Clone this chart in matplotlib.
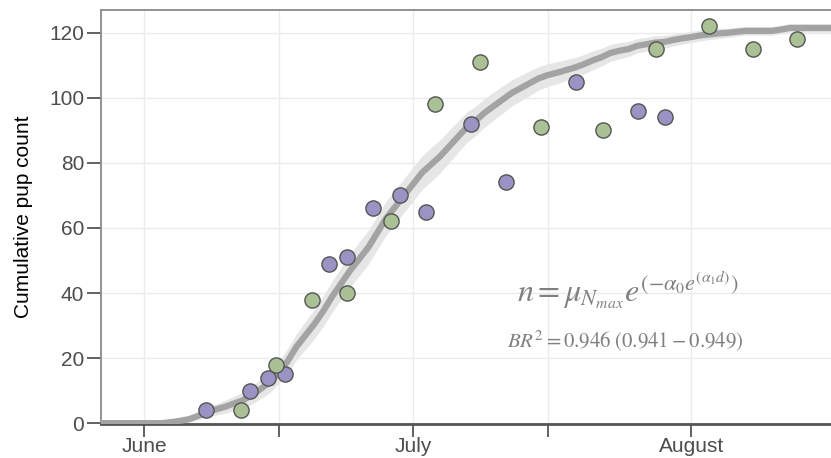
import numpy as np
import matplotlib.pyplot as plt

# dias contados desde el 1 de junio
tick_days = [0, 15, 30, 45, 61]
tick_labels = ['June', '', 'July', '', 'August']

# observaciones (dos grupos)
dias_morado = [6.9, 11.8, 13.8, 15.7, 20.6, 22.6, 25.5, 28.5, 31.4, 36.5, 40.4, 48.2, 55.1, 58.1]
pups_morado = [4, 10, 14, 15, 49, 51, 66, 70, 65, 92, 74, 105, 96, 94]
dias_verde = [10.8, 14.7, 18.7, 22.6, 27.5, 32.5, 37.5, 44.3, 51.2, 57.1, 63.0, 67.9, 72.8]
pups_verde = [4, 18, 38, 40, 62, 98, 111, 91, 90, 115, 122, 115, 118]

# curva ajustada
dias_curva = list(range(-5, 78))
curva = [0, 0, 0, 0, 0, 0, 0, 0, 0.3, 0.7, 1.2, 2.2, 3.4, 4.2, 5, 6, 7, 8.5, 10.5, 12.5,
         15.5, 19, 23.5, 27, 30.5, 34.5, 39, 43, 47, 50.5, 54, 58.5, 63, 66.5, 70, 73.5,
         77, 79.5, 82, 85, 88, 91, 93, 95.5, 97.5, 99.5, 101.5, 103, 104.5, 106, 107,
         107.7, 108.5, 109.3, 110.3, 111.5, 112.5, 113.8, 114.5, 115, 116, 116.5, 117,
         117.2, 117.8, 118.3, 118.7, 119.2, 119.5, 119.8, 120, 120.3, 120.6, 120.6, 120.6,
         120.6, 121, 121.5, 121.5, 121.5, 121.5, 121.5, 121.5]
ancho_banda = [0, 0, 0, 0, 0, 0, 0, 0, 0.4, 0.7, 0.9, 1.2, 1.4, 1.7, 2.0, 2.2, 2.5, 2.7, 3.0, 3.2,
               3.5, 3.8, 4.0, 4.3, 4.5, 4.7, 4.8, 4.9, 5.0, 5.2, 5.2, 5.2, 5.2, 5.2, 5.2, 5.2,
               5.2, 5.2, 5.1, 5.0, 4.8, 4.7, 4.5, 4.4, 4.3, 4.2, 4.0, 3.9, 3.8, 3.6, 3.5,
               3.4, 3.2, 3.1, 3.0, 2.9, 2.7, 2.6, 2.5, 2.3, 2.2, 2.1, 2.0, 2.0, 1.8, 1.8,
               1.7, 1.7, 1.6, 1.6, 1.4, 1.4, 1.3, 1.3, 1.3, 1.3, 1.3, 1.3, 1.3, 1.3, 1.3,
               1.3, 1.3]

plt.rcParams['font.family'] = ['Liberation Sans', 'DejaVu Sans']
plt.rcParams['mathtext.fontset'] = 'stix'

W, H = 831, 458
fig = plt.figure(figsize=(W / 100, H / 100), dpi=100)
ax = fig.add_axes([0.1215, 0.074, 0.8785, 0.904])

c = np.array(curva)
hw = np.array(ancho_banda)
ax.fill_between(dias_curva, c - hw, c + hw, color='#e6e6e6', lw=0, zorder=2)
ax.plot(dias_curva, curva, color='#a3a3a3', lw=4.5, zorder=3, solid_capstyle='butt')

ax.scatter(dias_morado, pups_morado, s=120, color='#9a93c4', edgecolor='#555555', lw=1, zorder=4)
ax.scatter(dias_verde, pups_verde, s=120, color='#a9c194', edgecolor='#555555', lw=1, zorder=4)

ax.set_xlim(-4.8, 76.6)
ax.set_ylim(-0.3, 127)
ax.set_xticks(tick_days)
ax.set_xticklabels(tick_labels)
ax.set_yticks(range(0, 121, 20))
ax.grid(True, color='#ebebeb', lw=1, zorder=0)
ax.set_axisbelow(True)

for lado in ['left', 'top']:
    ax.spines[lado].set_color('#8a8a8a')
    ax.spines[lado].set_linewidth(1.3)
ax.spines['bottom'].set_color('#555555')
ax.spines['bottom'].set_linewidth(2)
ax.spines['right'].set_visible(False)
ax.tick_params(length=10, width=1.3, color='#555555', labelcolor='#4d4d4d', labelsize=15, pad=2)
ax.tick_params(axis='x', length=9, pad=0)
ax.set_ylabel('Cumulative pup count', fontsize=15, labelpad=12)

fig.text(628 / W, 1 - 290 / H, r'$n = \mu_{N_{max}}e^{\left(-\alpha_0 e^{(\alpha_1 d)}\right)}$',
         fontsize=23, color='#808080', ha='center', va='center')
fig.text(625 / W, 1 - 341 / H, r'$BR^2 = 0.946\;\left(0.941 - 0.949\right)$',
         fontsize=15, color='#808080', ha='center', va='center')

fig.savefig('out.png', dpi=100)
